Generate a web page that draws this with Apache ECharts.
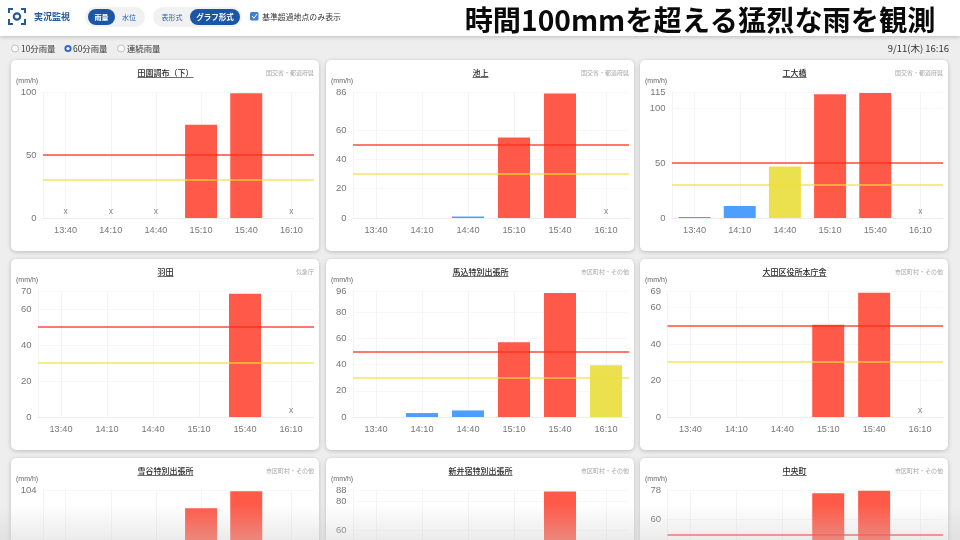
<!DOCTYPE html>
<html><head><meta charset="utf-8">
<style>html,body{margin:0;padding:0;background:#eee}#c{width:960px;height:540px}</style>
<script src="https://cdn.jsdelivr.net/npm/echarts@6/dist/echarts.min.js"></script>
</head><body><div id="c"></div>
<script>
const categories = ['13:40','14:10','14:40','15:10','15:40','16:10'];
const stationNames = ['田園調布（下）','池上','工大橋','羽田','馬込特別出張所','大田区役所本庁舎','雪谷特別出張所','新井宿特別出張所','中央町'];
const sources = ['国交省・都道府県','国交省・都道府県','国交省・都道府県','気象庁','市区町村・その他','市区町村・その他','市区町村・その他','市区町村・その他','市区町村・その他'];
const denenchofu = [null,null,null,74,99,null];
const ikegami = [0,0,1,55,85,null];
const kodaibashi = [1,11,47,113,114,null];
const haneda = [0,0,0,0,68.5,null];
const magome = [0,3,5,57,94.5,39.5];
const otaOffice = [0,0,0,50.5,68,null];
const yukigaya = [0,0,0,89,103,null];
const araijuku = [0,0,0,0,87,null];
const chuocho = [0,0,0,76,77.5,null];
const stationValues = [denenchofu,ikegami,kodaibashi,haneda,magome,otaOffice,yukigaya,araijuku,chuocho];
const yTicks = [[0,50,100],[0,20,40,60,86],[0,50,100,115],[0,20,40,60,70],[0,20,40,60,80,96],[0,20,40,60,69],[0,50,104],[0,20,40,60,80,88],[0,20,40,60,78]];
const thresholds = [50,30];

const CJK = '"Noto Sans CJK JP","Noto Sans",sans-serif';
const LAT = '"Liberation Sans",Roboto,sans-serif';
const RED='#ff5a49', YEL='#ebe04e', BLUE='#4d9fff';
const cardX=[11,326,640], cardY=[60,259,458], cardW=308, cardH=191;
const gridLeft=[43,353,672,38,353,667.5,43,353,667.5];
const gridRight=[314,629,943,314,629,943,314,629,943];
const grids=[],xAxes=[],yAxes=[],series=[],els=[];

function txt(x,y,text,size,fill,align,weight,z,family){
  els.push({type:'text',x,y,z:z||1,silent:true,style:{text,fill,font:(weight||'normal')+' '+size+'px '+(family||CJK),textAlign:align||'left',textVerticalAlign:'middle'}});
}
function rrect(x,y,w,h,r,fill,z,shadow){
  const s={fill}; if(shadow){s.shadowBlur=4;s.shadowColor='rgba(0,0,0,0.22)';s.shadowOffsetY=1;}
  els.push({type:'rect',z:z||1,silent:true,shape:{x,y,width:w,height:h,r},style:s});
}
function ln(x1,y1,x2,y2,stroke,lw,z){
  els.push({type:'line',z:z||1,silent:true,shape:{x1,y1,x2,y2},style:{stroke,lineWidth:lw}});
}
// page chrome
rrect(0,0,960,36,0,'#fff',-2,true);
const B='#24589f';
ln(9,13,9,8.5,B,2,1);ln(8,9,13,9,B,2,1);ln(21,9,26,9,B,2,1);ln(25,8,25,13,B,2,1);
ln(9,19,9,25,B,2,1);ln(8,24,13,24,B,2,1);ln(21,24,26,24,B,2,1);ln(25,19,25,25,B,2,1);
els.push({type:'circle',z:1,silent:true,shape:{cx:17,cy:16.5,r:3.2},style:{fill:'none',stroke:B,lineWidth:2.2}});
txt(34,16.5,'実況監視',9,'#24589f','left','bold');
rrect(85,7,60,20,10,'#f1f1f1',1);rrect(88,9,27,16,8,'#1b56a6',1);
txt(101.5,17,'雨量',7,'#fff','center','bold');txt(129,17,'水位',7,'#2a64ae','center');
rrect(153,7,89,20,10,'#f1f1f1',1);rrect(190,9,50,16,8,'#1b56a6',1);
txt(172,17,'表形式',7,'#2a64ae','center');txt(215,17,'グラフ形式',7.5,'#fff','center','bold');
rrect(250,12,8.5,8.5,1.5,'#3f7fd0',1);
els.push({type:'polyline',z:2,silent:true,shape:{points:[[252,16],[254,18.3],[257,14]]},style:{stroke:'#fff',lineWidth:1,fill:'none'}});
txt(262,16.5,'基準超過地点のみ表示',7.9,'#333');
txt(700,20,'時間100mmを超える猛烈な雨を観測',28.2,'#0a0a0a','center','bold');
[[15,false,21,'10分雨量'],[68,true,73,'60分雨量'],[121,false,127,'連続雨量']].forEach(([cx,on,tx,t])=>{
  els.push({type:'circle',z:1,silent:true,shape:{cx,cy:48.5,r:on?2.6:3.5},style:{fill:on?'#fff':'#fafafa',stroke:on?'#2a6ad0':'#aaa',lineWidth:on?2:0.7}});
  txt(tx,48.5,t,8.4,'#333');
});
txt(949,48.5,'9/11(木) 16:16',9.5,'#333','right');

stationNames.forEach((name,i)=>{
  const col=i%3,row=Math.floor(i/3),cx=cardX[col],cy=cardY[row],L=gridLeft[i],R=gridRight[i];
  rrect(cx,cy,cardW,cardH,5,'#fff',-1,true);
  const mid=cx+cardW/2,tw=name.length*8;
  txt(mid+0.5,cy+12.5,name,8,'#2a2a2a','center','500');
  ln(mid+0.5-tw/2,cy+17.5,mid+0.5+tw/2,cy+17.5,'#333',0.7,1);
  txt(cx+cardW-5,cy+12.5,sources[i],6,'#a5a5a5','right');
  txt(cx+5,cy+21,'(mm/h)',7,'#666','left','normal',1,LAT);
  const top=cy+32;
  grids.push({left:L,width:R-L,top,height:126,containLabel:false,outerBoundsMode:'none'});
  xAxes.push({gridIndex:i,type:'category',data:categories,boundaryGap:true,
    axisLine:{lineStyle:{color:'#ececec',width:1}},axisTick:{show:false,alignWithLabel:true},
    splitLine:{show:true,alignWithLabel:true,lineStyle:{color:'#f4f4f4',width:1}},
    axisLabel:{color:'#777',fontSize:9.2,fontFamily:LAT,margin:8,interval:0}});
  yAxes.push({gridIndex:i,type:'value',min:0,max:yTicks[i][yTicks[i].length-1],
    axisLine:{show:true,lineStyle:{color:'#f4f4f4',width:1}},
    axisTick:{show:false,customValues:yTicks[i]},
    splitLine:{show:true,lineStyle:{color:'#f7f7f7',width:1}},
    axisLabel:{color:'#777',fontSize:9.5,fontFamily:LAT,margin:6.5,padding:[2,0,0,0],customValues:yTicks[i]}});
  const vals=stationValues[i];
  series.push({type:'bar',xAxisIndex:i,yAxisIndex:i,barWidth:32,silent:true,clip:true,
    data:vals.map(v=>v==null?null:{value:v,itemStyle:{color:v>=50?RED:v>=30?YEL:BLUE}}),
    markLine:{silent:true,symbol:'none',animation:false,label:{show:false},
      data:thresholds.map(t=>({yAxis:t,lineStyle:{type:'solid',width:1.5,opacity:1,color:t===50?'rgba(255,45,25,0.85)':'rgba(240,222,60,0.8)'}}))}});
  series.push({type:'scatter',xAxisIndex:i,yAxisIndex:i,symbolSize:0,silent:true,
    data:vals.map((v,k)=>v==null?[k,0]:null).filter(Boolean),
    label:{show:true,formatter:'x',position:'top',distance:2,fontSize:8.5,color:'#666',fontFamily:LAT}});
});
// soft fade at the bottom of the picture
els.push({type:'rect',z:50,silent:true,shape:{x:0,y:505,width:960,height:35},
  style:{fill:{type:'linear',x:0,y:0,x2:0,y2:1,colorStops:[{offset:0,color:'rgba(205,205,205,0)'},{offset:1,color:'rgba(205,205,205,0.4)'}]}}});

const chart=echarts.init(document.getElementById('c'),null,{renderer:'canvas',width:960,height:540});
chart.setOption({animation:false,backgroundColor:'#eeeeee',grid:grids,xAxis:xAxes,yAxis:yAxes,series,graphic:{elements:els}});
</script></body></html>
